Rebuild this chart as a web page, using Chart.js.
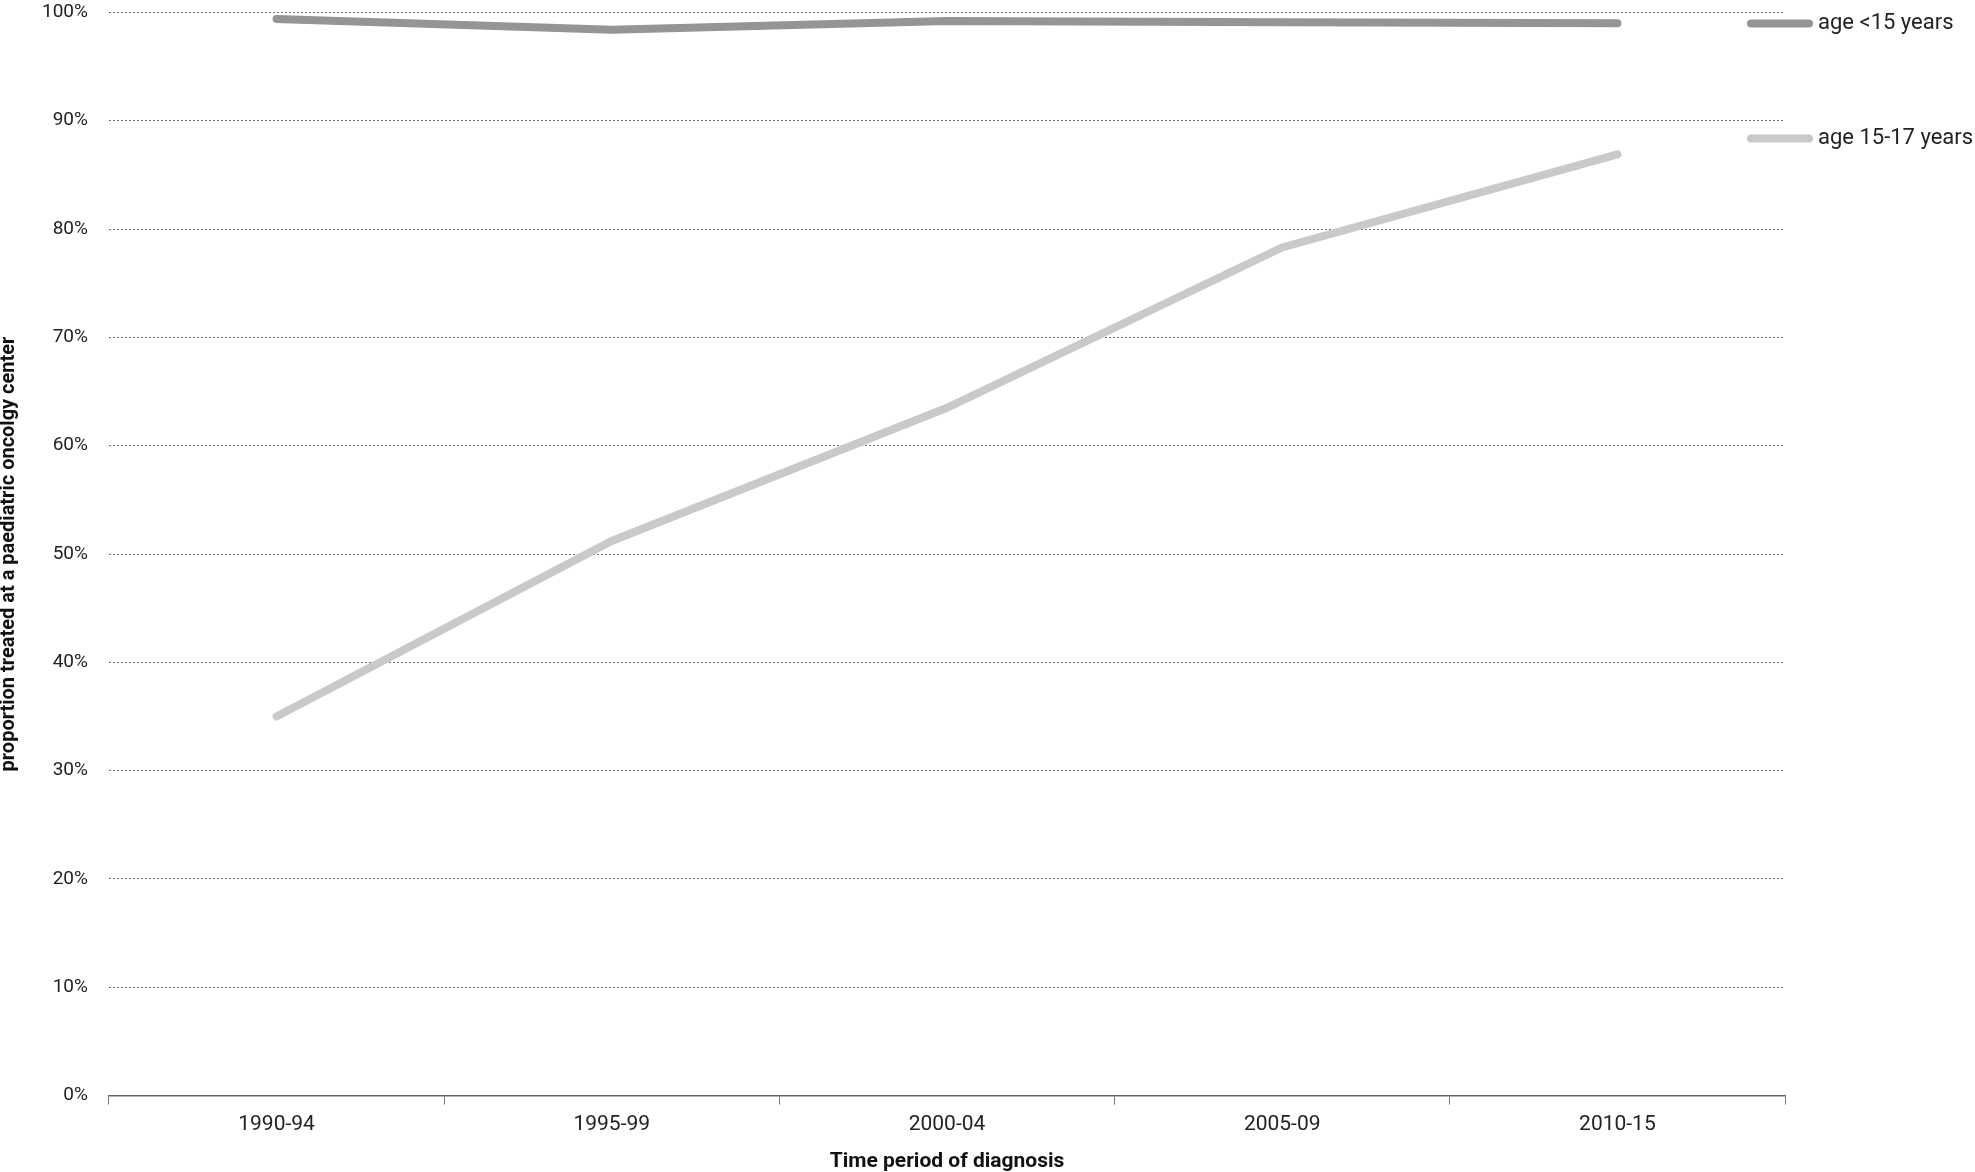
<!DOCTYPE html>
<html>
<head>
<meta charset="utf-8">
<script src="https://cdn.jsdelivr.net/npm/chart.js@4"></script>
<style>
  html, body { margin: 0; padding: 0; background: #fff; overflow: hidden; }
  #wrap { width: 1975px; height: 1196px; margin-top: -20px; position: relative; }
</style>
</head>
<body>
<div id="wrap"><canvas id="chart"></canvas></div>
<script>
// periods on the x axis
const periods = ['1990-94', '1995-99', '2000-04', '2005-09', '2010-15'];
// share treated at a paediatric oncology center (%)
const under15 = [99.4, 98.4, 99.2, 99.1, 99.0];
const age15to17 = [35.0, 51.2, 63.5, 78.3, 86.9];
const seriesNames = ['age <15 years', 'age 15-17 years'];
const yTicks = [0, 10, 20, 30, 40, 50, 60, 70, 80, 90, 100];

// legend at the right, next to each series
const sideLegend = {
    id: 'sideLegend',
    afterDraw(chart) {
        const ctx = chart.ctx;
        const area = chart.chartArea;
        const rows = [area.top + 11, area.top + 126];
        ctx.save();
        chart.data.datasets.forEach((ds, i) => {
            const y = rows[i];
            const x0 = area.right - 34;
            ctx.strokeStyle = ds.borderColor;
            ctx.lineWidth = 8;
            ctx.lineCap = 'round';
            ctx.beginPath();
            ctx.moveTo(x0, y);
            ctx.lineTo(x0 + 58, y);
            ctx.stroke();
            ctx.fillStyle = '#222';
            ctx.font = '22px Roboto';
            ctx.textBaseline = 'middle';
            ctx.fillText(ds.label, x0 + 67, y);
        });
        ctx.restore();
    }
};

new Chart(document.getElementById('chart'), {
    type: 'line',
    data: {
        labels: periods,
        datasets: [{
            label: seriesNames[0],
            data: under15,
            borderColor: '#939598',
            borderWidth: 8,
            borderCapStyle: 'round',
            pointRadius: 0,
            pointHoverRadius: 0,
            tension: 0
        }, {
            label: seriesNames[1],
            data: age15to17,
            borderColor: '#c8c9ca',
            borderWidth: 8,
            borderCapStyle: 'round',
            pointRadius: 0,
            pointHoverRadius: 0,
            tension: 0
        }]
    },
    options: {
        responsive: true,
        maintainAspectRatio: false,
        animation: false,
        layout: { autoPadding: false, padding: { top: 0, right: 190, left: -3, bottom: 0 } },
        plugins: {
            legend: { display: false },
            tooltip: { enabled: false }
        },
        scales: {
            x: {
                offset: true,
                grid: {
                    offset: true,
                    drawOnChartArea: false,
                    drawTicks: true,
                    tickLength: 9,
                    color: '#777',
                    lineWidth: 1
                },
                border: { display: true, color: '#666', width: 1.5 },
                ticks: {
                    color: '#222',
                    font: { family: 'Roboto', size: 21 },
                    padding: 8
                },
                title: {
                    display: true,
                    text: 'Time period of diagnosis',
                    color: '#111',
                    font: { family: 'Roboto', size: 21, weight: 'bold' },
                    padding: { top: 3, bottom: 2 }
                }
            },
            y: {
                min: 0,
                max: 100,
                afterBuildTicks(scale) {
                    scale.ticks = yTicks.map(v => ({ value: v }));
                },
                grid: {
                    color: '#6f6f6f',
                    lineWidth: 1,
                    drawTicks: false
                },
                border: { display: false, dash: [2, 2] },
                ticks: {
                    color: '#222',
                    font: { family: 'Roboto', size: 19 },
                    padding: 21,
                    callback: v => v + '%'
                },
                title: {
                    display: true,
                    text: 'proportion treated at a paediatric oncolgy center',
                    color: '#111',
                    font: { family: 'Roboto', size: 20, weight: 'bold' },
                    padding: { top: 0, bottom: 0 }
                }
            }
        }
    },
    plugins: [sideLegend]
});
</script>
</body>
</html>
